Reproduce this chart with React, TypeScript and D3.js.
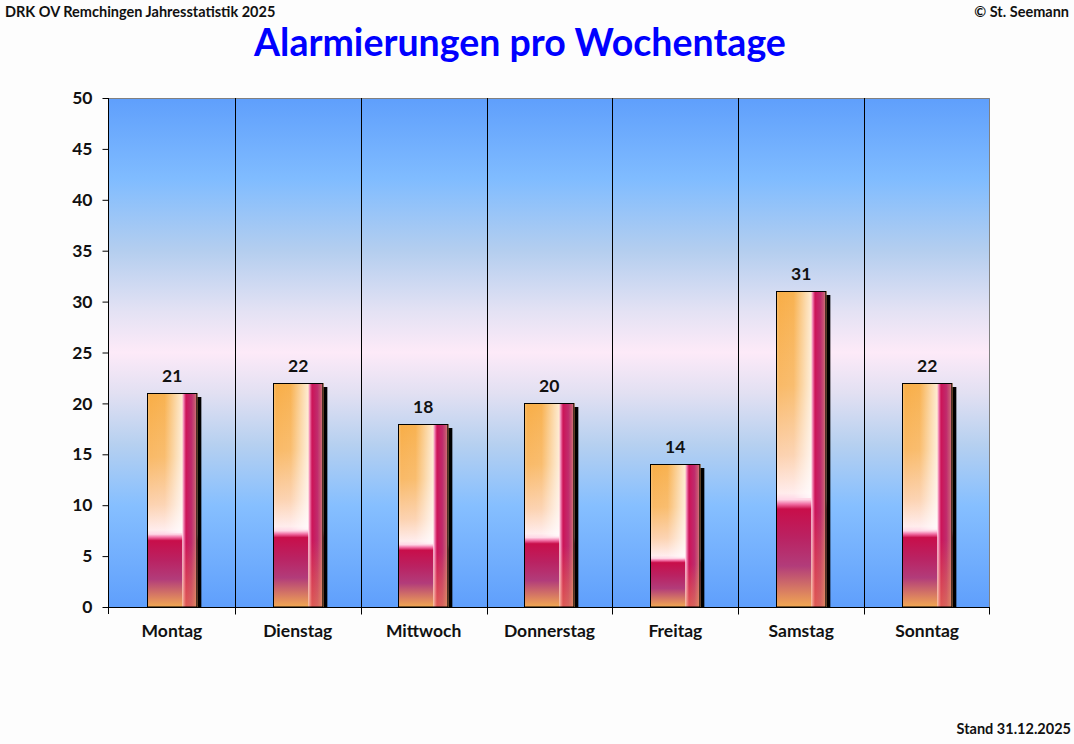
import { useEffect, useRef } from "react";
import * as d3 from "d3";

const weekdays = ["Montag", "Dienstag", "Mittwoch", "Donnerstag", "Freitag", "Samstag", "Sonntag"];
const alarmCounts = [21, 22, 18, 20, 14, 31, 22];
const yTicks = [0, 5, 10, 15, 20, 25, 30, 35, 40, 45, 50];

const headerLeft = "DRK OV Remchingen Jahresstatistik 2025";
const headerRight = "© St. Seemann";
const chartTitle = "Alarmierungen pro Wochentage";
const footerText = "Stand 31.12.2025";

const fontFamily = "Lato, 'Noto Sans', sans-serif";

const App = () => {
	const containerRef = useRef<HTMLDivElement>(null);

	useEffect(() => {
		if (!containerRef.current) {
			return;
		}
		const container = containerRef.current;
		const width = 1074;
		const height = 744;
		const margin = { top: 98, right: 84, bottom: 137, left: 109 };
		const innerWidth = width - margin.left - margin.right;
		const innerHeight = height - margin.top - margin.bottom;

		const svg = d3
			.select(container)
			.append("svg")
			.attr("width", width)
			.attr("height", height)
			.style("position", "absolute")
			.style("left", "0px")
			.style("top", "0px")
			.attr("font-family", fontFamily);

		svg.append("rect").attr("width", width).attr("height", height).attr("fill", "#fdfdfd");

		const defs = svg.append("defs");

		const addGradient = (
			id: string,
			stops: [number, string, number?][],
			vertical: boolean
		) => {
			const g = defs
				.append("linearGradient")
				.attr("id", id)
				.attr("x1", 0)
				.attr("y1", 0)
				.attr("x2", vertical ? 0 : 1)
				.attr("y2", vertical ? 1 : 0);
			stops.forEach(([offset, color, opacity]) => {
				g.append("stop")
					.attr("offset", offset)
					.attr("stop-color", color)
					.attr("stop-opacity", opacity ?? 1);
			});
		};

		// plot background
		addGradient(
			"plotBg",
			[
				[0, "#5f9ffc"],
				[0.16, "#80bcff"],
				[0.3, "#b4ceef"],
				[0.42, "#e4e2f4"],
				[0.5, "#fdeaf8"],
				[0.58, "#e2e0f2"],
				[0.68, "#b6d0f0"],
				[0.8, "#86bfff"],
				[1, "#5f9ffc"]
			],
			true
		);

		// bar front, vertical
		addGradient(
			"barFront",
			[
				[0, "#f8ae48"],
				[0.3, "#f9ba68"],
				[0.52, "#fcd2b0"],
				[0.64, "#ffecec"],
				[0.66, "#ffd6e6"],
				[0.675, "#f06aa0"],
				[0.69, "#c80e4a"],
				[0.78, "#ba2262"],
				[0.87, "#b23c7a"],
				[1, "#f2a852"]
			],
			true
		);

		// white sheen on the upper front
		addGradient(
			"barSheen",
			[
				[0, "#ffffff", 0.2],
				[0.1, "#ffffff", 0],
				[0.5, "#ffffff", 0.05],
				[0.85, "#ffffff", 0.55],
				[1, "#ffffff", 0.75]
			],
			false
		);

		// right strip, horizontal
		addGradient(
			"barSide",
			[
				[0, "#ffe4ee"],
				[0.1, "#f080b0"],
				[0.25, "#cc1458"],
				[0.6, "#c02a6c"],
				[0.85, "#c85a74"],
				[1, "#e8986a"]
			],
			false
		);

		addGradient(
			"sideFade",
			[
				[0, "#f0a050", 0],
				[0.7, "#f0a050", 0],
				[1, "#f0a050", 0.5]
			],
			true
		);

		const content = svg.append("g").attr("transform", `translate(${margin.left},${margin.top})`);

		const xScale = d3.scaleBand().domain(weekdays).range([0, innerWidth]).paddingInner(0).paddingOuter(0);
		const yScale = d3.scaleLinear().domain([0, 50]).range([innerHeight, 0]);
		const barWidth = xScale.bandwidth() * 0.4;
		const sideRatio = 0.7;

		content
			.append("rect")
			.attr("width", innerWidth)
			.attr("height", innerHeight)
			.attr("fill", "url(#plotBg)");

		// top and right border
		content
			.append("path")
			.attr("d", `M0,0.5H${innerWidth - 0.5}V${innerHeight}`)
			.attr("fill", "none")
			.attr("stroke", "#808080")
			.attr("stroke-width", 1);

		// category separators
		content
			.append("g")
			.selectAll("line")
			.data(weekdays.slice(1))
			.join("line")
			.attr("x1", (d) => Math.round(xScale(d) ?? 0) + 0.5)
			.attr("x2", (d) => Math.round(xScale(d) ?? 0) + 0.5)
			.attr("y1", 0)
			.attr("y2", innerHeight)
			.attr("stroke", "#000");

		const bars = content
			.append("g")
			.selectAll("g.bar")
			.data(weekdays.map((day, i) => ({ day, value: alarmCounts[i] })))
			.join("g")
			.attr("class", "bar")
			.attr("transform", (d) => {
				const x = Math.round((xScale(d.day) ?? 0) + (xScale.bandwidth() - barWidth) / 2);
				return `translate(${x},${Math.round(yScale(d.value))})`;
			});

		const barHeight = (d: { value: number }) => innerHeight - Math.round(yScale(d.value));

		bars
			.append("rect")
			.attr("x", 4)
			.attr("y", 4)
			.attr("width", barWidth)
			.attr("height", (d) => barHeight(d) - 4)
			.attr("fill", "#000");

		bars
			.append("rect")
			.attr("width", barWidth)
			.attr("height", barHeight)
			.attr("fill", "url(#barFront)");

		bars
			.append("rect")
			.attr("width", barWidth * sideRatio)
			.attr("height", (d) => barHeight(d) * 0.655)
			.attr("fill", "url(#barSheen)");

		bars
			.append("rect")
			.attr("x", barWidth * sideRatio)
			.attr("width", barWidth * (1 - sideRatio))
			.attr("height", barHeight)
			.attr("fill", "url(#barSide)");

		bars
			.append("rect")
			.attr("x", barWidth * sideRatio)
			.attr("width", barWidth * (1 - sideRatio))
			.attr("height", barHeight)
			.attr("fill", "url(#sideFade)");

		bars
			.append("rect")
			.attr("x", 0.5)
			.attr("y", 0.5)
			.attr("width", barWidth - 1)
			.attr("height", (d) => barHeight(d) - 0.5)
			.attr("fill", "none")
			.attr("stroke", "#000")
			.attr("stroke-width", 1);

		bars
			.append("text")
			.attr("x", barWidth / 2)
			.attr("y", -11)
			.attr("text-anchor", "middle")
			.attr("font-size", 17.5)
			.attr("font-weight", 700)
			.attr("fill", "#111")
			.text((d) => d.value);

		// y axis
		const yAxis = content
			.append("g")
			.attr("transform", "translate(-0.5,0)")
			.call(d3.axisLeft(yScale).tickValues(yTicks).tickSize(6).tickPadding(10).tickFormat((v) => `${v}`));
		yAxis.select(".domain").attr("d", `M0,0V${innerHeight + 7}`).attr("stroke", "#000");
		yAxis.selectAll(".tick line").attr("stroke", "#000");
		yAxis
			.selectAll("text")
			.attr("font-family", fontFamily)
			.attr("font-size", 17.5)
			.attr("font-weight", 700)
			.attr("fill", "#111");

		// x axis
		const xAxis = content
			.append("g")
			.attr("transform", `translate(0,${innerHeight + 0.5})`)
			.call(d3.axisBottom(xScale).tickSize(0).tickPadding(17));
		xAxis.select(".domain").attr("d", `M-6,0H${innerWidth}`).attr("stroke", "#000");
		xAxis
			.selectAll("text")
			.attr("font-family", fontFamily)
			.attr("font-size", 17.5)
			.attr("font-weight", 700)
			.attr("fill", "#111");

		xAxis
			.append("g")
			.selectAll("line")
			.data([...weekdays.slice(1), "end"])
			.join("line")
			.attr("x1", (d) => (d === "end" ? innerWidth - 0.5 : Math.round(xScale(d) ?? 0) + 0.5))
			.attr("x2", (d) => (d === "end" ? innerWidth - 0.5 : Math.round(xScale(d) ?? 0) + 0.5))
			.attr("y1", 0)
			.attr("y2", 7)
			.attr("stroke", "#000");

		// headers
		svg.append("text")
			.attr("x", 5)
			.attr("y", 17)
			.attr("font-size", 14.5)
			.attr("font-weight", 700)
			.attr("fill", "#111")
			.text(headerLeft);

		svg.append("text")
			.attr("x", 1069)
			.attr("y", 17)
			.attr("text-anchor", "end")
			.attr("font-size", 14.5)
			.attr("font-weight", 700)
			.attr("fill", "#111")
			.text(headerRight);

		svg.append("text")
			.attr("x", 520)
			.attr("y", 56)
			.attr("text-anchor", "middle")
			.attr("font-size", 37.5)
			.attr("font-weight", 700)
			.attr("fill", "#0000ff")
			.text(chartTitle);

		svg.append("text")
			.attr("x", 1071)
			.attr("y", 734)
			.attr("text-anchor", "end")
			.attr("font-size", 14.5)
			.attr("font-weight", 700)
			.attr("fill", "#111")
			.text(footerText);

		return () => {
			svg.remove();
		};
	}, []);

	return <div ref={containerRef} style={{ width: 1074, height: 744 }} />;
};

export default App;
